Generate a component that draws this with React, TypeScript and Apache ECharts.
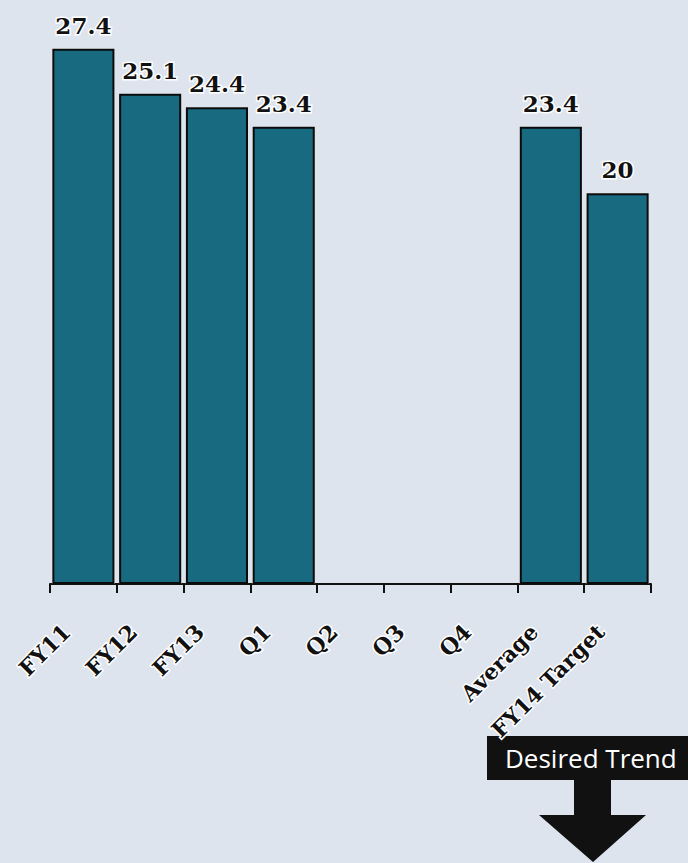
import React, { useEffect, useRef } from "react";
import * as echarts from "echarts";

// Periods on the horizontal axis
const categories = ["FY11", "FY12", "FY13", "Q1", "Q2", "Q3", "Q4", "Average", "FY14 Target"];
// Measured values per period (Q2–Q4 not yet reported)
const values: (number | null)[] = [27.4, 25.1, 24.4, 23.4, null, null, null, 23.4, 20];

const BAR_COLOR = "#176a80";
const BG_COLOR = "#dde4ee";
const INK = "#111111";

export default function App() {
  const ref = useRef<HTMLDivElement>(null);

  useEffect(() => {
    if (!ref.current) return;
    const chart = echarts.init(ref.current, undefined, { renderer: "svg" });

    const serifBold = {
      fontFamily: "'DejaVu Serif', serif",
      fontWeight: "bold" as const,
      color: INK,
      textBorderColor: "#ffffff",
      textBorderWidth: 3,
    };

    chart.setOption({
      animation: false,
      backgroundColor: BG_COLOR,
      grid: { left: 50, right: 37, top: 37, bottom: 279 },
      xAxis: {
        type: "category",
        data: categories,
        axisLine: { lineStyle: { color: INK, width: 2 } },
        axisTick: { show: true, length: 9, lineStyle: { color: INK, width: 2 } },
        axisLabel: {
          ...serifBold,
          rotate: 45,
          fontSize: 22,
          margin: 27,
          padding: [0, 24, 0, 0],
          interval: 0,
        },
      },
      yAxis: { type: "value", min: 0, max: 28, show: false },
      series: [
        {
          // white halo drawn behind each bar
          type: "bar",
          silent: true,
          data: values,
          barCategoryGap: "7%",
          itemStyle: { color: "#ffffff", borderColor: "#ffffff", borderWidth: 5 },
          z: 1,
        },
        {
          type: "bar",
          data: values,
          barGap: "-100%",
          barCategoryGap: "7%",
          itemStyle: { color: BAR_COLOR, borderColor: "#0b0b0b", borderWidth: 2 },
          label: {
            show: true,
            position: "top",
            distance: 12,
            ...serifBold,
            fontSize: 23,
          },
          z: 2,
        },
      ],
      graphic: [
        {
          type: "rect",
          z: 0,
          shape: { x: 487, y: 736, width: 201, height: 44 },
          style: { fill: "#111111" },
        },
        {
          type: "text",
          z: 1,
          x: 505,
          y: 758,
          style: {
            text: "Desired Trend",
            fill: "#ffffff",
            font: "26px 'Open Sans', sans-serif",
            verticalAlign: "middle",
          },
        },
        {
          type: "polygon",
          z: 1,
          shape: {
            points: [
              [574, 779],
              [611, 779],
              [611, 815],
              [646, 815],
              [593, 862],
              [539, 815],
              [574, 815],
            ],
          },
          style: { fill: "#111111" },
        },
      ],
    });

    return () => chart.dispose();
  }, []);

  return (
    <div
      ref={ref}
      style={{ position: "fixed", left: 0, top: 0, width: 688, height: 863 }}
    />
  );
}
